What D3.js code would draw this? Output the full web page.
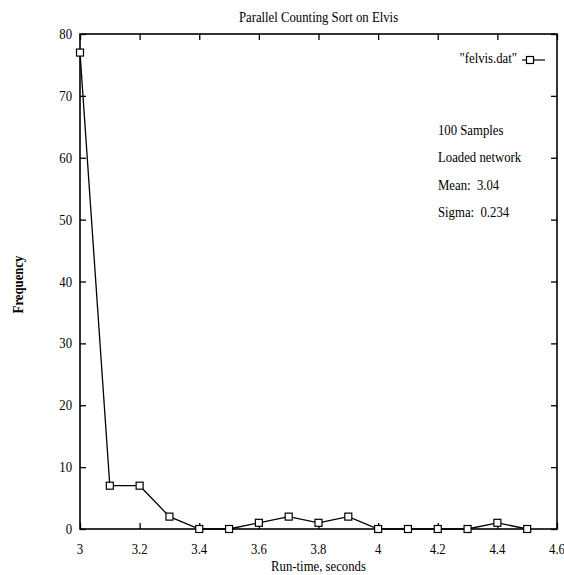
<!DOCTYPE html>
<html><head><meta charset="utf-8">
<script src="https://cdn.jsdelivr.net/npm/d3@7"></script>
<style>
body{margin:0;background:#fff;}
text{font-family:"Liberation Serif","Times New Roman",serif;fill:#000;white-space:pre;}
</style></head>
<body><svg id="c" width="564" height="575"></svg>
<script>
const runTimes = [3.0,3.1,3.2,3.3,3.4,3.5,3.6,3.7,3.8,3.9,4.0,4.1,4.2,4.3,4.4,4.5];
const frequency = [77,7,7,2,0,0,1,2,1,2,0,0,0,0,1,0];
const xTicks = [3,3.2,3.4,3.6,3.8,4,4.2,4.4,4.6];
const yTicks = [0,10,20,30,40,50,60,70,80];
const title = "Parallel Counting Sort on Elvis";
const xLabel = "Run-time, seconds";
const yLabel = "Frequency";
const seriesName = "\"felvis.dat\"";
const notes = ["100 Samples","Loaded network","Mean:  3.04","Sigma:  0.234"];

const svg = d3.select("#c");
const L=80,R=557,T=34,B=529;
const x = d3.scaleLinear().domain([3,4.6]).range([L,R]);
const y = d3.scaleLinear().domain([0,80]).range([B,T]);
const fs = 15, sx = 0.85;

function addText(px,py,str,anchor,extra){
  const t = svg.append("text").attr("transform",`translate(${px},${py}) scale(${sx},1)`)
    .attr("text-anchor",anchor||"start").attr("font-size",fs).text(str);
  return t;
}

// frame
svg.append("rect").attr("x",L).attr("y",T).attr("width",R-L).attr("height",B-T)
  .attr("fill","none").attr("stroke","#000").attr("stroke-width",1.6);

// axes with inward ticks
const tl=6;
svg.append("g").attr("transform",`translate(0,${B})`)
  .call(d3.axisBottom(x).tickValues(xTicks).tickSize(-tl).tickFormat(""))
  .call(g=>g.select(".domain").remove());
svg.append("g").attr("transform",`translate(0,${T})`)
  .call(d3.axisTop(x).tickValues(xTicks).tickSize(-tl).tickFormat(""))
  .call(g=>g.select(".domain").remove());
svg.append("g").attr("transform",`translate(${L},0)`)
  .call(d3.axisLeft(y).tickValues(yTicks).tickSize(-tl).tickFormat(""))
  .call(g=>g.select(".domain").remove());
svg.append("g").attr("transform",`translate(${R},0)`)
  .call(d3.axisRight(y).tickValues(yTicks).tickSize(-tl).tickFormat(""))
  .call(g=>g.select(".domain").remove());
svg.selectAll(".tick line").attr("stroke","#000").attr("stroke-width",1.3);

// tick labels
const fmt = d3.format("");
xTicks.forEach(v=>addText(x(v),B+25,fmt(v),"middle"));
yTicks.forEach(v=>addText(L-8,y(v)+5,fmt(v),"end"));

// titles
addText((L+R)/2,22,title,"middle");
addText((L+R)/2,571,xLabel,"middle");
svg.append("text").attr("transform",`translate(23,${(T+B)/2+3}) rotate(-90) scale(${sx},1)`)
  .attr("text-anchor","middle").attr("font-size",fs).attr("font-weight","bold").text(yLabel);

// line
const data = runTimes.map((t,i)=>({t,f:frequency[i]}));
svg.append("path").datum(data).attr("fill","none").attr("stroke","#000").attr("stroke-width",1.3)
  .attr("d",d3.line().x(d=>x(d.t)).y(d=>y(d.f)));
const s=7;
svg.selectAll(".pt").data(data).join("rect").attr("class","pt")
  .attr("x",d=>x(d.t)-s/2).attr("y",d=>y(d.f)-s/2).attr("width",s).attr("height",s)
  .attr("fill","#fff").attr("stroke","#000").attr("stroke-width",1.2);

// legend
addText(517,63,seriesName,"end");
svg.append("line").attr("x1",522).attr("x2",545).attr("y1",60).attr("y2",60).attr("stroke","#000").attr("stroke-width",1.2);
svg.append("rect").attr("x",530-s/2).attr("y",60-s/2).attr("width",s).attr("height",s).attr("fill","#fff").attr("stroke","#000").attr("stroke-width",1.2);

// notes
notes.forEach((d,i)=>addText(438,135+i*27.3,d,"start"));
</script></body></html>
